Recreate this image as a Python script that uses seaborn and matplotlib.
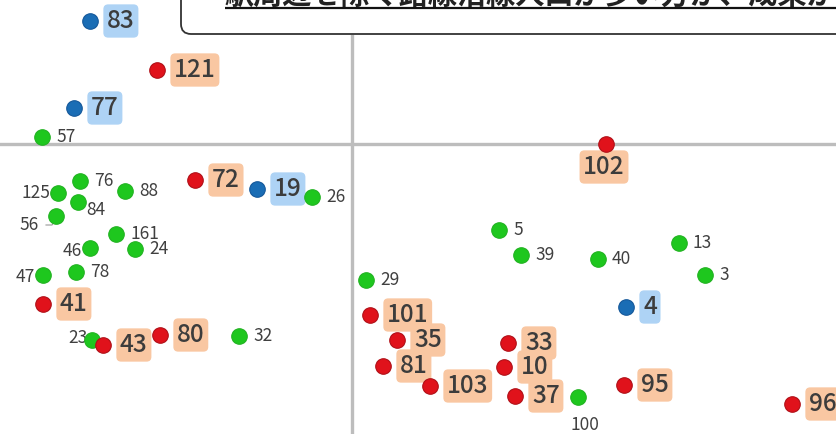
import matplotlib
matplotlib.use("Agg")
import matplotlib.pyplot as plt
import seaborn as sns
import pandas as pd
from matplotlib.patches import FancyBboxPatch

# Data (station id, x score, y score, group)
ids_blue = ["83", "77", "19", "4"]
x_blue = [90, 74, 257, 626]
y_blue = [413, 326, 245, 127]

ids_red = ["121", "72", "102", "41", "43", "80", "101", "35", "81", "103",
           "33", "10", "37", "95", "96"]
x_red = [157, 195, 606, 43, 103, 160, 370, 397, 383, 430, 508, 504, 515, 624, 792]
y_red = [364, 254, 290, 130, 89, 99, 119, 94, 68, 48, 91, 67, 38, 49, 30]

ids_green = ["57", "76", "125", "88", "84", "56", "161", "46", "24", "47", "78",
             "26", "23", "32", "29", "5", "39", "40", "13", "3", "100"]
x_green = [42, 80, 58, 125, 78, 56, 116, 90, 135, 43, 76,
           312, 92, 239, 366, 499, 521, 598, 679, 705, 578]
y_green = [297, 253, 241, 243, 232, 218, 200, 186, 185, 159, 162,
           237, 94, 98, 154, 204, 179, 175, 191, 159, 37]

x_split = 352
y_split = 290

title = "駅周辺を除く路線沿線人口が多い方が、成果が"

df = pd.DataFrame({
    "id": ids_green + ids_red + ids_blue,
    "x": x_green + x_red + x_blue,
    "y": y_green + y_red + y_blue,
    "group": ["green"] * len(ids_green) + ["red"] * len(ids_red) + ["blue"] * len(ids_blue),
})

palette = {"green": "#1ec71e", "red": "#e0121b", "blue": "#1a6db5"}
edges = {"green": "#22b322", "red": "#b01018", "blue": "#15589a"}

fig = plt.figure(figsize=(8.36, 4.34), dpi=100)
ax = fig.add_axes([0, 0, 1, 1])
ax.set_xlim(0, 836)
ax.set_ylim(0, 434)
ax.axis("off")

# quadrant lines
ax.axvline(x_split, ymax=(434 - 36) / 434, color="#bdbdbd", lw=2.4, zorder=1)
ax.axhline(y_split, color="#bdbdbd", lw=2.4, zorder=1)

for g in ["green", "red", "blue"]:
    sub = df[df["group"] == g]
    sns.scatterplot(data=sub, x="x", y="y", color=palette[g], s=125,
                    edgecolor=edges[g], linewidth=0.8, ax=ax, zorder=4, legend=False)

ax.set_xlabel("")
ax.set_ylabel("")

# label placement exceptions (offset in pixels, alignment)
special = {
    "125": (-8, 0, "right"), "56": (-17, -9, "right"), "46": (-8, -3, "right"),
    "47": (-8, -2, "right"), "23": (-4, 2, "right"), "84": (8, -8, "left"),
    "102": (-2, -23, "center"), "100": (7, -28, "center"),
}
fp = ["Noto Sans CJK JP", "DejaVu Sans"]
for _, r in df.iterrows():
    dx, dy, ha = special.get(r["id"], (None, 0, "left"))
    if r["group"] == "green":
        if dx is None:
            dx = 14
        ax.text(r["x"] + dx, r["y"] + dy, r["id"], fontsize=12.5, color="#404040",
                ha=ha, va="center", family=fp, zorder=3)
    else:
        if dx is None:
            dx = 17
        bg = "#f9c7a2" if r["group"] == "red" else "#aed3f5"
        ax.text(r["x"] + dx, r["y"] + dy, r["id"], fontsize=17.5, color="#3c3c3c",
                ha=ha, va="center", family=fp, fontweight="medium", zorder=3,
                bbox=dict(boxstyle="round,pad=0.15,rounding_size=0.2", fc=bg, ec="none"))

# leader line for label 56
ax.plot([46, 52, 55], [209, 209, 213], color="#999999", lw=0.8, zorder=2)

# title box (cut off at the top)
box = FancyBboxPatch((181, 400), 800, 80, boxstyle="round,pad=0,rounding_size=10",
                     fc="white", ec="#333333", lw=1.3, zorder=5)
ax.add_patch(box)
ax.text(225, 430, title, fontsize=21, fontweight="bold", color="#222222",
        ha="left", va="baseline", family=fp, zorder=6)
ax.hlines(426, 225, 836, color="#111111", lw=1.6, zorder=6)

fig.savefig("out.png", dpi=100)
